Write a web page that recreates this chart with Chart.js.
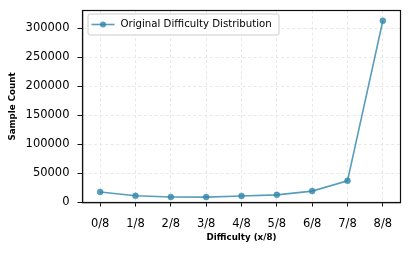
<!DOCTYPE html>
<html>
<head>
<meta charset="utf-8">
<script src="https://cdn.jsdelivr.net/npm/chart.js@4/dist/chart.umd.min.js"></script>
<style>
html,body{margin:0;padding:0;background:#fff;}
#wrap{width:411px;height:253px;position:relative;}
</style>
</head>
<body>
<div id="wrap"><canvas id="c" width="411" height="253"></canvas></div>
<script>
const categories = ["0/8","1/8","2/8","3/8","4/8","5/8","6/8","7/8","8/8"];
const sampleCounts = [18200, 11500, 9400, 9300, 11300, 13200, 19600, 37300, 312600];
const yTickValues = [0, 50000, 100000, 150000, 200000, 250000, 300000];
const seriesLabel = "Original Difficulty Distribution";
const xTitle = "Difficulty (x/8)";
const yTitle = "Sample Count";

const lineColor = "rgba(46,134,171,0.8)";
const FONT = "'DejaVu Sans', sans-serif";

const framePlugin = {
  id: 'frame',
  afterDraw(chart) {
    const {ctx, chartArea: a} = chart;
    ctx.save();
    ctx.strokeStyle = '#111';
    ctx.lineWidth = 1.2;
    ctx.strokeRect(a.left, a.top, a.right - a.left, a.bottom - a.top);
    // legend
    const lx = a.left + 5, ly = a.top + 3, lw = 191, lh = 21;
    ctx.fillStyle = 'rgba(255,255,255,0.85)';
    ctx.strokeStyle = '#cccccc';
    ctx.lineWidth = 1;
    ctx.beginPath();
    if (ctx.roundRect) ctx.roundRect(lx + 0.5, ly + 0.5, lw, lh, 2); else ctx.rect(lx + 0.5, ly + 0.5, lw, lh);
    ctx.fill();
    ctx.stroke();
    const cy = ly + lh / 2 + 0.5;
    ctx.strokeStyle = lineColor;
    ctx.lineWidth = 1.6;
    ctx.beginPath();
    ctx.moveTo(lx + 4, cy);
    ctx.lineTo(lx + 27, cy);
    ctx.stroke();
    ctx.fillStyle = lineColor;
    ctx.beginPath();
    ctx.arc(lx + 15.5, cy, 3, 0, Math.PI * 2);
    ctx.fill();
    ctx.fillStyle = '#000';
    ctx.font = "10.2px " + FONT;
    ctx.textBaseline = 'middle';
    ctx.textAlign = 'left';
    ctx.fillText(chart.data.datasets[0].label, lx + 33, cy);
    ctx.restore();
  }
};

new Chart(document.getElementById('c'), {
  type: 'line',
  data: {
    labels: categories,
    datasets: [{
      label: seriesLabel,
      data: sampleCounts,
      borderColor: lineColor,
      backgroundColor: lineColor,
      pointBackgroundColor: lineColor,
      pointBorderColor: lineColor,
      borderWidth: 1.6,
      pointRadius: 3,
      pointBorderWidth: 0.5,
      tension: 0,
      fill: false
    }]
  },
  options: {
    responsive: false,
    animation: false,
    events: [],
    layout: { padding: { left: 0, right: 10.5, top: 10.5, bottom: 0 } },
    plugins: { legend: { display: false }, tooltip: { enabled: false } },
    scales: {
      x: {
        type: 'category',
        offset: true,
        afterFit(s) { s.height = 50.5; s.paddingLeft = 0; s.paddingRight = 0; },
        grid: { offset: false, color: '#e2e2e2', lineWidth: 0.8, tickColor: '#111', tickLength: 4, tickWidth: 1 },
        border: { display: true, color: '#111', width: 1.2, dash: [3, 2.5] },
        ticks: { color: '#000', font: { family: FONT, size: 11.5 }, padding: 10.5, maxRotation: 0, autoSkip: false },
        title: { display: true, text: xTitle, color: '#000', font: { family: FONT, size: 8.7, weight: 'bold' }, padding: { top: 0, bottom: 10.5 } }
      },
      y: {
        type: 'linear',
        min: 0,
        max: 330300,
        afterFit(s) { s.width = 82.5; s.paddingTop = 0; s.paddingBottom = 0; },
        afterBuildTicks(s) { s.ticks = yTickValues.map(v => ({ value: v })); },
        grid: { color: '#e2e2e2', lineWidth: 0.8, tickColor: '#111', tickLength: 5, tickWidth: 1 },
        border: { display: true, color: '#111', width: 1.2, dash: [3, 2.5] },
        ticks: { color: '#000', font: { family: FONT, size: 11.5 }, padding: 8, callback: v => String(v) },
        title: { display: true, text: yTitle, color: '#000', font: { family: FONT, size: 8.7, weight: 'bold' }, padding: { top: 8, bottom: 0 } }
      }
    }
  },
  plugins: [framePlugin]
});
</script>
</body>
</html>
